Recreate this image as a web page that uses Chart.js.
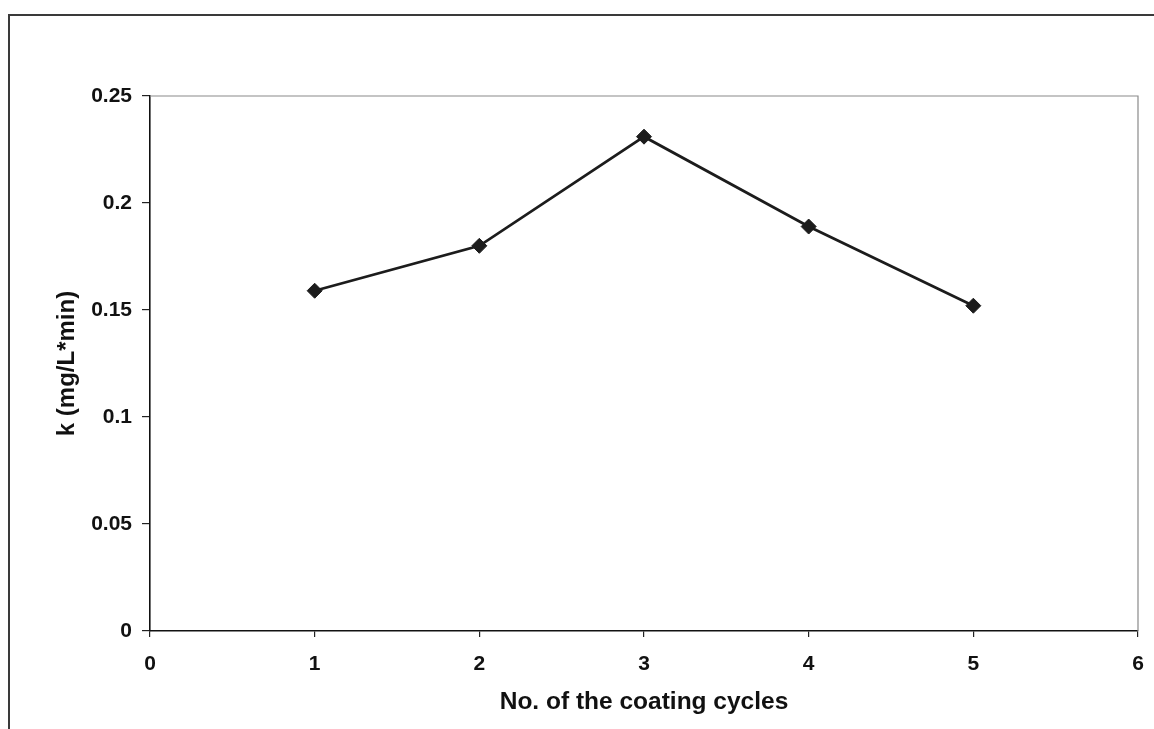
<!DOCTYPE html>
<html>
<head>
<meta charset="utf-8">
<title>k vs. number of coating cycles</title>
<script src="https://cdn.jsdelivr.net/npm/chart.js@4/dist/chart.umd.min.js"></script>
<style>
  html, body { margin: 0; padding: 0; background: #fff; }
  #wrap { width: 1154px; height: 729px; }
</style>
</head>
<body>
<div id="wrap"><canvas id="c" width="1154" height="729"></canvas></div>
<script>
// Rate constant k for each number of coating cycles
const cycles = [1, 2, 3, 4, 5];
const kValues = [0.159, 0.180, 0.231, 0.189, 0.152];
const yTickLabels = ['0', '0.05', '0.1', '0.15', '0.2', '0.25'];
const xTickLabels = ['0', '1', '2', '3', '4', '5', '6'];

const points = cycles.map((c, i) => ({ x: c, y: kValues[i] }));

// Outer frame lines and the light box closing the plot area
const framePlugin = {
  id: 'frame',
  beforeDatasetsDraw(chart) {
    const { ctx, chartArea: a } = chart;
    ctx.save();
    ctx.strokeStyle = '#8a8a8a';
    ctx.lineWidth = 1.2;
    ctx.beginPath();
    ctx.moveTo(a.left, a.top);
    ctx.lineTo(a.right, a.top);
    ctx.lineTo(a.right, a.bottom);
    ctx.stroke();
    ctx.restore();
  },
  afterDraw(chart) {
    const { ctx } = chart;
    ctx.save();
    ctx.strokeStyle = '#3a3a3a';
    ctx.lineWidth = 2;
    ctx.beginPath();
    ctx.moveTo(1154, 15);
    ctx.lineTo(9, 15);
    ctx.lineTo(9, 729);
    ctx.stroke();
    ctx.restore();
  }
};

const tickFont = { family: '"Liberation Sans", Arial, sans-serif', size: 21, weight: 'bold' };

new Chart(document.getElementById('c'), {
  type: 'scatter',
  data: {
    datasets: [{
      data: points,
      showLine: true,
      borderColor: '#1c1c1c',
      borderWidth: 2.8,
      pointStyle: 'rectRot',
      pointRadius: 7.5,
      pointBackgroundColor: '#1c1c1c',
      pointBorderColor: '#1c1c1c',
      pointBorderWidth: 1,
      tension: 0
    }]
  },
  options: {
    responsive: false,
    animation: false,
    events: [],
    layout: { padding: { top: 96, right: 16, left: 0, bottom: 0 } },
    plugins: { legend: { display: false }, tooltip: { enabled: false } },
    scales: {
      x: {
        type: 'linear',
        min: 0, max: 6,
        afterFit(s) { s.height = 98; s.paddingLeft = 0; s.paddingRight = 0; },
        ticks: {
          stepSize: 1,
          color: '#111',
          font: tickFont,
          padding: 15,
          callback: (v) => xTickLabels[v]
        },
        grid: { drawOnChartArea: false, drawTicks: true, tickLength: 6, color: '#222', lineWidth: 1.2 },
        border: { color: '#111', width: 1.6 },
        title: {
          display: true,
          text: 'No. of the coating cycles',
          color: '#111',
          font: { family: '"Liberation Sans", Arial, sans-serif', size: 24.5, weight: 'bold' },
          padding: { top: 0, bottom: 12 }
        }
      },
      y: {
        type: 'linear',
        min: 0, max: 0.25,
        afterFit(s) { s.width = 150; s.paddingTop = 0; s.paddingBottom = 0; },
        ticks: {
          stepSize: 0.05,
          color: '#111',
          font: tickFont,
          padding: 10,
          callback: (v) => yTickLabels[Math.round(v / 0.05)]
        },
        grid: { drawOnChartArea: false, drawTicks: true, tickLength: 8, color: '#222', lineWidth: 1.2 },
        border: { color: '#111', width: 1.6 },
        title: {
          display: true,
          text: 'k (mg/L*min)',
          color: '#111',
          font: { family: '"Liberation Sans", Arial, sans-serif', size: 24, weight: 'bold' },
          padding: { top: 53, bottom: 0 }
        }
      }
    }
  },
  plugins: [framePlugin]
});
</script>
</body>
</html>
